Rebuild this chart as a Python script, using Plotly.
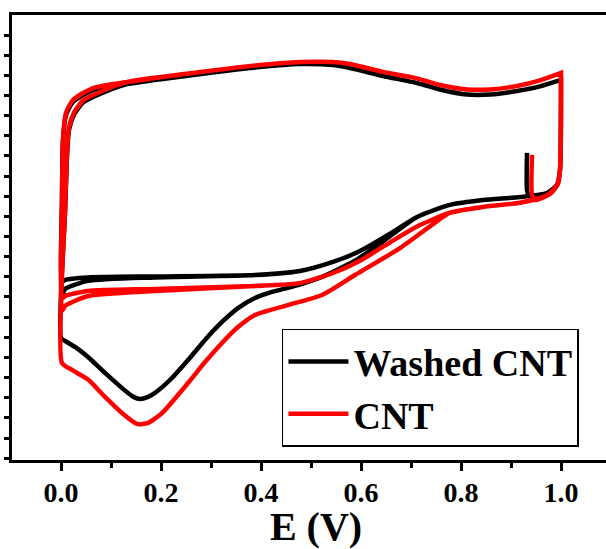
import plotly.graph_objects as go

# ---------------- data (E in V, I in mA) ----------------
# initial transient segment (start of scan near 0.93 V)
E_start_black = [0.932, 0.932, 0.936, 0.972, 0.992, 0.998, 1.0]
I_start_black = [0.715, 0.531, 0.501, 0.516, 0.556, 0.630, 1.077]
E_start_red = [0.942, 0.942, 0.948, 0.978, 0.994, 0.998, 1.0]
I_start_red = [0.705, 0.506, 0.481, 0.511, 0.561, 0.630, 1.112]

# upper (reverse) branch, 1.0 V -> 0.0 V
E_up = [1.0, 0.958, 0.912, 0.858, 0.812, 0.758, 0.712, 0.644, 0.578, 0.544,
        0.478, 0.398, 0.264, 0.132, 0.064, 0.024, 0.010, 0.004, 0.002]
I_up_black = [1.077, 1.045, 1.022, 1.005, 1.005, 1.030, 1.062, 1.097, 1.136, 1.151,
              1.156, 1.141, 1.102, 1.057, 1.027, 0.968, 0.903, 0.779, 0.481]
I_up_red = [1.112, 1.075, 1.047, 1.030, 1.030, 1.052, 1.085, 1.117, 1.156, 1.166,
            1.166, 1.151, 1.112, 1.067, 1.037, 0.978, 0.913, 0.779, 0.481]

# rounder corner of the first reverse sweep near 0 V
E_corner_in = [0.080, 0.044, 0.026, 0.016, 0.012, 0.010, 0.008]
I_corner_in_black = [1.010, 0.965, 0.905, 0.830, 0.700, 0.560, 0.420]
I_corner_in_red = [1.020, 0.975, 0.915, 0.840, 0.710, 0.570, 0.420]

# first forward sweep with the cathodic dip
E_dip_black = [0.000, 0.008, 0.028, 0.054, 0.088, 0.122, 0.142, 0.158, 0.174, 0.188,
               0.222, 0.254, 0.288, 0.322, 0.354, 0.388, 0.422, 0.454, 0.522, 0.588,
               0.630]
I_dip_black = [-0.203, -0.218, -0.248, -0.298, -0.377, -0.452, -0.491, -0.506, -0.496,
               -0.476, -0.402, -0.313, -0.213, -0.124, -0.055, -0.005, 0.025, 0.045,
               0.100, 0.180, 0.250]
E_dip_red = [0.002, 0.022, 0.054, 0.088, 0.122, 0.152, 0.174, 0.202, 0.254, 0.288,
             0.322, 0.354, 0.388, 0.454, 0.522, 0.588, 0.678, 0.744]
I_dip_red = [-0.328, -0.362, -0.410, -0.496, -0.576, -0.630, -0.625, -0.576, -0.427,
             -0.323, -0.228, -0.149, -0.089, -0.040, 0.010, 0.109, 0.243, 0.362]

# later forward sweeps (lower branch), 0.0 V -> 1.0 V
E_lo = [0.002, 0.008, 0.054, 0.188, 0.388, 0.478, 0.544, 0.598, 0.664, 0.712,
        0.778, 0.844, 0.918, 0.972, 0.992, 0.998, 1.0]
I_lo_black_a = [0.075, 0.085, 0.097, 0.102, 0.109, 0.129, 0.174, 0.228, 0.323, 0.397,
                0.457, 0.481, 0.496, 0.516, 0.556, 0.630, 1.077]
I_lo_black_b = [0.010, 0.040, 0.080, 0.097, 0.109, 0.129, 0.174, 0.228, 0.323, 0.397,
                0.457, 0.481, 0.496, 0.516, 0.556, 0.630, 1.077]
I_lo_red_a = [-0.010, 0.005, 0.030, 0.040, 0.055, 0.069, 0.119, 0.180, 0.280, 0.350,
              0.418, 0.447, 0.468, 0.505, 0.555, 0.630, 1.112]
I_lo_red_b = [-0.070, -0.045, 0.005, 0.030, 0.055, 0.069, 0.119, 0.180, 0.280, 0.350,
              0.418, 0.447, 0.468, 0.505, 0.555, 0.630, 1.112]

x_ticks = [0.0, 0.2, 0.4, 0.6, 0.8, 1.0]
x_tick_labels = ["0.0", "0.2", "0.4", "0.6", "0.8", "1.0"]
names = ["Washed CNT", "CNT"]
colors = ["#000000", "#ff0000"]


def build(E_s, I_s, I_up, I_cin, E_dip, I_dip, dip_join, I_lo_a, I_lo_b):
    E, I = list(E_s), list(I_s)
    # first reverse sweep (inner corner)
    E += E_up[:14] + E_corner_in
    I += I_up[:14] + I_cin
    # first forward sweep with dip, joining the lower branch
    E += E_dip + E_lo[dip_join:]
    I += I_dip + I_lo_a[dip_join:]
    # second cycle
    E += E_up + E_lo
    I += I_up + I_lo_a
    # third cycle
    E += E_up + E_lo
    I += I_up + I_lo_b
    return E, I


Eb, Ib = build(E_start_black, I_start_black, I_up_black, I_corner_in_black,
               E_dip_black, I_dip_black, 9, I_lo_black_a, I_lo_black_b)
Er, Ir = build(E_start_red, I_start_red, I_up_red, I_corner_in_red,
               E_dip_red, I_dip_red, 10, I_lo_red_a, I_lo_red_b)

font_family = "Liberation Serif"

fig = go.Figure()
for (E, I), name, col in zip([(Eb, Ib), (Er, Ir)], names, colors):
    fig.add_trace(go.Scatter(
        x=E, y=I, mode="lines", name=name,
        line=dict(color=col, width=4.5, shape="spline", smoothing=0.6),
    ))

# plot area extends past the right edge of the 606 px window (as in the reference)
fig.update_layout(
    width=620, height=549,
    margin=dict(l=12, r=0, t=15, b=89),
    paper_bgcolor="white", plot_bgcolor="white",
    font=dict(family=font_family, color="black"),
    legend=dict(
        x=0.444, y=0.295, xanchor="left", yanchor="top",
        bgcolor="white", bordercolor="black", borderwidth=1.5,
        font=dict(family=font_family, size=38, color="black", weight="bold"),
        itemwidth=60,
    ),
)
fig.update_xaxes(
    range=[-0.098, 1.118],
    tickmode="array", tickvals=x_ticks, ticktext=x_tick_labels,
    ticks="outside", ticklen=8, tickwidth=3, tickcolor="black",
    minor=dict(ticks="outside", dtick=0.1, tick0=0.1, ticklen=5, tickwidth=3,
               tickcolor="black", showgrid=False),
    tickfont=dict(family=font_family, size=28, color="black", weight="bold"),
    ticklabelstandoff=-3,
    showline=True, linecolor="black", linewidth=3, mirror=True,
    showgrid=False, zeroline=False,
    title=dict(text="E (V)", standoff=5,
               font=dict(family=font_family, size=40, color="black", weight="bold")),
    automargin=False,
)
fig.update_yaxes(
    range=[-0.809, 1.3995],
    tick0=0, dtick=0.1, ticks="outside", ticklen=5, tickwidth=3, tickcolor="black",
    showticklabels=False,
    showline=True, linecolor="black", linewidth=3, mirror=False,
    showgrid=False, zeroline=False, automargin=False,
)

fig.write_html(
    "out.html",
    config={"displayModeBar": False},
    post_script="document.body.style.margin='0';document.body.style.overflow='hidden';",
)
